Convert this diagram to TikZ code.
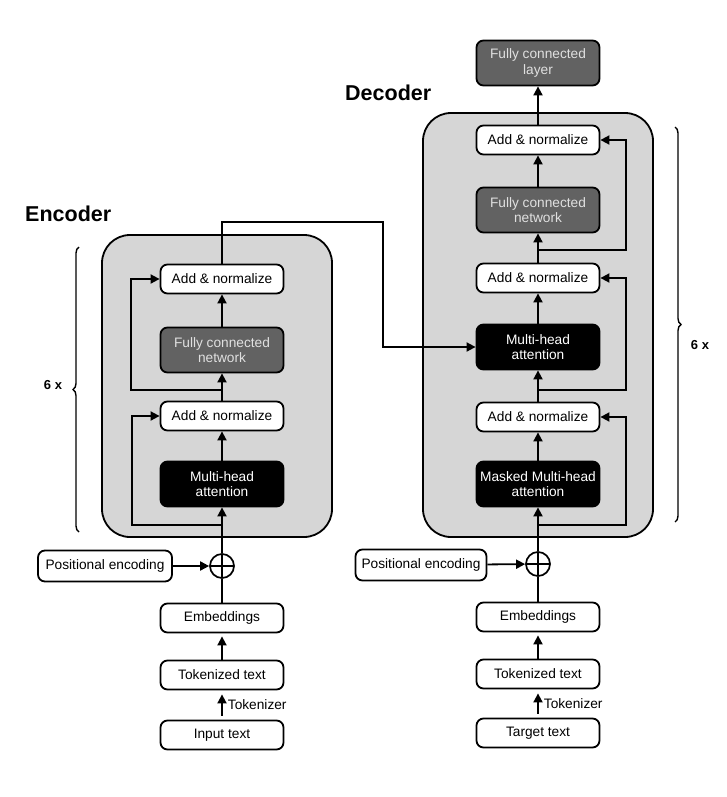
\documentclass[tikz,border=0pt]{standalone}
\usepackage{fontspec}
\setmainfont{Liberation Sans}
\usetikzlibrary{arrows.meta,decorations.pathreplacing,calc}
\definecolor{boxgray}{RGB}{214,214,214}
\definecolor{darkbox}{RGB}{98,98,98}
\begin{document}
\begin{tikzpicture}[x=1pt,y=-1pt,
  every node/.style={font=\fontsize{13.7}{15.5}\selectfont},
  blk/.style={draw, line width=1.8pt, rounded corners=7pt, minimum width=123pt, minimum height=29pt, inner sep=2pt, align=center, fill=white},
  tallbox/.style={blk, minimum height=45pt},
  darkfill/.style={tallbox, fill=darkbox, text=white!88!black},
  attn/.style={tallbox, fill=black, text=white},
  group/.style={draw, line width=1.8pt, fill=boxgray, rounded corners=28pt, inner sep=0pt},
  arr/.style={line width=1.8pt, -{Triangle[width=9pt,length=9pt]}},
  ln/.style={line width=1.8pt},
  plusnode/.style={circle, draw, line width=1.7pt, minimum size=24pt, inner sep=0pt, fill=white,
    path picture={\draw[line width=1.4pt] (path picture bounding box.north) -- (path picture bounding box.south) (path picture bounding box.west) -- (path picture bounding box.east);}},
  title/.style={font=\bfseries\fontsize{21.5}{24}\selectfont, anchor=west, inner sep=0pt},
  times/.style={font=\bfseries\fontsize{13}{15}\selectfont, inner sep=0pt},
  bracestyle/.style={decorate, decoration={brace, amplitude=6pt}, line width=1.4pt}
]
\fill[white] (0,0) rectangle (727,797);
\useasboundingbox (0,0) rectangle (727,797);

% ---------- Encoder ----------
\node[group, minimum width=230pt, minimum height=302pt] (encbox) at (217,386) {};
\node[title] (enct) at (25,214) {Encoder};
\node[blk] (ea2) at (222,279) {Add \& normalize};
\node[darkfill] (efcn) at (222,350) {Fully connected\\network};
\node[blk] (ea1) at (222,416) {Add \& normalize};
\node[attn] (emha) at (222,484) {Multi-head\\attention};
\node[plusnode] (plusE) at (222,566) {};
\node[blk, minimum width=134pt, minimum height=31pt] (peE) at (105,566) {Positional encoding};
\node[blk] (embE) at (222,618) {Embeddings};
\node[blk] (tokE) at (222,675) {Tokenized text};
\node[blk] (inE) at (222,735) {Input text};
\draw[bracestyle] (79,532) -- (79,247);
\node[times] (sixE) at (53,385) {6 x};

% ---------- Decoder ----------
\node[group, minimum width=230pt, minimum height=424pt] (decbox) at (538,325) {};
\node[title] (dect) at (345,93) {Decoder};
\node[darkfill] (dfcl) at (538,63) {Fully connected\\layer};
\node[blk] (da3) at (538,140) {Add \& normalize};
\node[darkfill] (dfcn) at (538,210) {Fully connected\\network};
\node[blk] (da2) at (538,278) {Add \& normalize};
\node[attn] (dmha) at (538,347) {Multi-head\\attention};
\node[blk] (da1) at (538,417) {Add \& normalize};
\node[attn] (dmm) at (538,484) {Masked Multi-head\\attention};
\node[plusnode] (plusD) at (538,564) {};
\node[blk, minimum width=131pt, minimum height=31pt] (peD) at (421,565) {Positional encoding};
\node[blk] (embD) at (538,617) {Embeddings};
\node[blk] (tokD) at (538,674) {Tokenized text};
\node[blk] (tgD) at (538,733) {Target text};
\draw[bracestyle] (675,127) -- (675,522);
\node[times] (sixD) at (700,345) {6 x};

% ---------- Encoder connectors ----------
\draw[arr, shorten <=4pt, shorten >=4pt] (inE) -- (tokE) node[midway, right, inner sep=2pt, xshift=3pt] (tkE) {Tokenizer};
\draw[arr, shorten >=3pt] (tokE) -- (embE);
\draw[ln] (embE) -- (plusE);
\draw[arr] (peE) -- (plusE);
\draw[arr] (plusE) -- (emha);
\draw[arr] (emha) -- (ea1);
\draw[arr] (ea1) -- (efcn);
\draw[arr] (efcn) -- (ea2);
\coordinate (eb1) at (222,525);
\coordinate (eb2) at (222,390);
\draw[arr] (eb1) -| ($(ea1.west)+(-28,0)$) -- (ea1.west);
\draw[arr] (eb2) -| ($(ea2.west)+(-29,0)$) -- (ea2.west);
\coordinate (cross) at (383,222);
\draw[arr] (ea2.north) |- (cross) |- (dmha.west);

% ---------- Decoder connectors ----------
\draw[arr, shorten <=4pt, shorten >=4pt] (tgD) -- (tokD) node[midway, right, inner sep=2pt, xshift=3pt] (tkD) {Tokenizer};
\draw[arr, shorten >=3pt] (tokD) -- (embD);
\draw[ln] (embD) -- (plusD);
\draw[arr] (peD) -- (plusD);
\draw[arr] (plusD) -- (dmm);
\draw[arr] (dmm) -- (da1);
\draw[arr] (da1) -- (dmha);
\draw[arr] (dmha) -- (da2);
\draw[arr] (da2) -- (dfcn);
\draw[arr] (dfcn) -- (da3);
\draw[arr] (da3) -- (dfcl);
\coordinate (db1) at (538,525);
\coordinate (db2) at (538,390);
\coordinate (db3) at (538,250);
\draw[arr] (db1) -| ($(da1.east)+(25.5,0)$) -- (da1.east);
\draw[arr] (db2) -| ($(da2.east)+(25.5,0)$) -- (da2.east);
\draw[arr] (db3) -| ($(da3.east)+(25.5,0)$) -- (da3.east);
\end{tikzpicture}
\end{document}
